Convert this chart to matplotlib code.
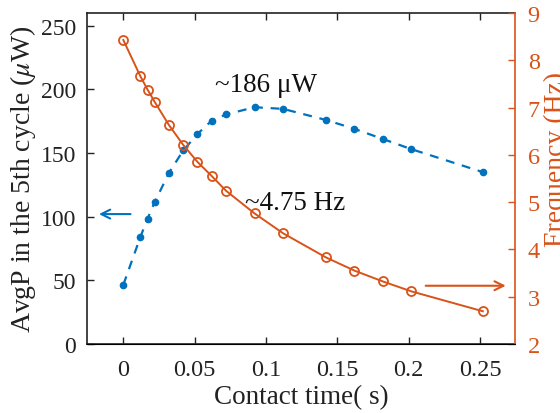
import matplotlib
matplotlib.use("Agg")
import matplotlib.pyplot as plt

plt.rcParams['font.family'] = ['Liberation Serif', 'DejaVu Serif']
plt.rcParams['mathtext.fontset'] = 'stix'

# contact time (s)
t_power = [0.0, 0.012, 0.017, 0.022, 0.032, 0.042, 0.052, 0.062, 0.072,
           0.092, 0.112, 0.142, 0.162, 0.182, 0.202, 0.252]
avg_power = [46.4, 84.1, 98.5, 111.4, 134.4, 152, 165, 175.5, 180.3,
             186, 184.7, 176, 169, 161, 153, 135]

t_freq = [0.0, 0.012, 0.017, 0.022, 0.032, 0.042, 0.052, 0.062, 0.072,
          0.092, 0.112, 0.142, 0.162, 0.182, 0.202, 0.252]
freq = [8.43, 7.66, 7.38, 7.12, 6.63, 6.21, 5.85, 5.55, 5.24,
        4.76, 4.34, 3.83, 3.55, 3.32, 3.11, 2.69]

x_ticks = [0, 0.05, 0.1, 0.15, 0.2, 0.25]
x_ticklabels = ['0', '0.05', '0.1', '0.15', '0.2', '0.25']

blue = '#0072BD'
orange = '#D95319'
dark = '#222222'


def main():
    fig = plt.figure(figsize=(5.6, 4.14), dpi=100)
    ax = fig.add_axes([0.156, 0.167, 0.764, 0.799])
    ax2 = ax.twinx()

    ax.plot(t_power, avg_power, '--', color=blue, lw=1.6, marker='o',
            ms=4.5, mfc=blue, mec=blue, dashes=(4, 3.5))
    ax2.plot(t_freq, freq, '-', color=orange, lw=1.4, marker='o',
             ms=6.5, mfc='none', mec=orange, mew=1.3)

    ax.set_xlim(-0.0252, 0.2747)
    ax.set_ylim(0, 260)
    ax2.set_ylim(2, 9)

    ax.set_xticks(x_ticks)
    ax.set_xticklabels(x_ticklabels)
    ax.set_yticks([0, 50, 100, 150, 200, 250])
    ax2.set_yticks([2, 3, 4, 5, 6, 7, 8, 9])

    ax.tick_params(axis='both', direction='in', length=5, width=1,
                   top=True, colors=dark)
    ax.tick_params(axis='x', labelsize=17.5, pad=11)
    ax.tick_params(axis='y', labelsize=17, pad=8)
    ax2.tick_params(axis='y', direction='in', labelsize=17.5, length=5,
                    width=1, colors=orange, pad=9)

    for s in ['left', 'top', 'bottom']:
        ax.spines[s].set_color(dark)
        ax.spines[s].set_linewidth(1.2)
    ax2.spines['right'].set_color(orange)
    ax2.spines['right'].set_linewidth(1.2)
    ax2.spines['left'].set_visible(False)
    ax2.spines['top'].set_visible(False)
    ax.spines['right'].set_visible(False)

    ax.set_xlabel('Contact time( s)', fontsize=19.5, labelpad=3, color=dark)
    ax.set_ylabel(r'AvgP in the 5th cycle ($\mu$W)', fontsize=20,
                  labelpad=2, color=dark)
    fig.text(0.972, 0.615, 'Frequency (Hz)', fontsize=20, color=orange,
             rotation=90, ha='left', va='center')

    ax.text(0.0642, 204, '~186 \u03bcW', fontsize=19.5, ha='left',
            va='center', color='#111111')
    ax2.text(0.0855, 4.99, '~4.75 Hz', fontsize=19.5, ha='left',
             va='center', color='#111111')

    ax.annotate('', xy=(-0.019, 102), xytext=(0.007, 102),
                arrowprops=dict(arrowstyle='->', color=blue, lw=1.5,
                                mutation_scale=16))
    ax2.annotate('', xy=(0.27, 3.23), xytext=(0.21, 3.23),
                 arrowprops=dict(arrowstyle='->', color=orange, lw=1.5,
                                 mutation_scale=16))

    fig.savefig('out.png', dpi=100)


if __name__ == '__main__':
    main()
